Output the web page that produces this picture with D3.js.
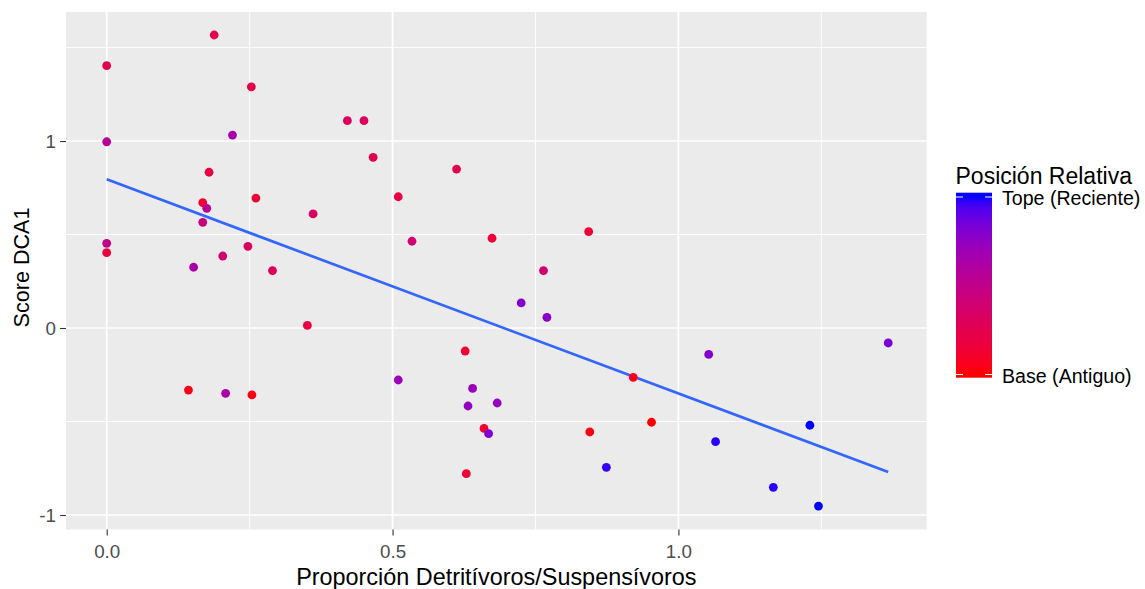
<!DOCTYPE html>
<html>
<head>
<meta charset="utf-8">
<script src="https://cdn.jsdelivr.net/npm/d3@7"></script>
<style>
  html, body { margin: 0; padding: 0; background: #ffffff; }
  svg { display: block; font-family: "Liberation Sans", Arial, sans-serif; }
</style>
</head>
<body>
<svg id="chart" width="1145" height="589"></svg>
<script>
// Detritivore / suspensivore ratio per sample
const ratio = [
  0.188, 0.000, 0.253, 0.421, 0.450, 0.000, 0.220, 0.466, 0.179, 0.261,
  0.510, 0.168, 0.175, 0.168, 0.361, 0.000, 0.000, 0.247, 0.203, 0.152,
  0.290, 0.612, 0.534, 0.674, 0.843, 0.764, 0.351, 0.143, 0.208, 0.254,
  0.510, 0.725, 0.770, 0.627, 0.640, 0.632, 0.683, 0.660, 0.668, 0.629,
  0.921, 0.845, 0.953, 0.874, 1.053, 1.367, 1.065, 1.230, 1.166, 1.245
];
// DCA axis 1 scores
const score = [
  1.567, 1.403, 1.290, 1.109, 1.109, 0.996, 1.032, 0.913, 0.833, 0.695,
  0.702, 0.670, 0.640, 0.565, 0.610, 0.453, 0.403, 0.437, 0.385, 0.325,
  0.307, 0.850, 0.464, 0.480, 0.515, 0.307, 0.014, -0.332, -0.349, -0.358,
  -0.278, 0.134, 0.057, -0.123, -0.323, -0.417, -0.401, -0.537, -0.565, -0.779,
  -0.264, -0.556, -0.504, -0.745, -0.141, -0.080, -0.608, -0.520, -0.852, -0.952
];
// Relative position in the core (0 = base/oldest, 1 = top/most recent)
const position = [
  0.25, 0.25, 0.22, 0.30, 0.30, 0.57, 0.65, 0.25, 0.20, 0.18,
  0.20, 0.13, 0.55, 0.45, 0.32, 0.50, 0.20, 0.33, 0.40, 0.65,
  0.28, 0.25, 0.40, 0.15, 0.15, 0.40, 0.20, 0.04, 0.63, 0.03,
  0.70, 0.80, 0.78, 0.12, 0.72, 0.74, 0.73, 0.12, 0.82, 0.15,
  0.05, 0.03, 0.00, 0.97, 0.80, 0.83, 0.98, 1.00, 0.98, 1.00
];

const xTicks = [0, 0.5, 1.0];
const xTickLabels = ["0.0", "0.5", "1.0"];
const xMinor = [0.25, 0.75, 1.25];
const yTicks = [-1, 0, 1];
const yTickLabels = ["-1", "0", "1"];
const yMinor = [-0.5, 0.5, 1.5];
const legendBreaks = [0, 1];
const legendLabels = ["Base (Antiguo)", "Tope (Reciente)"];

const xTitle = "Proporción Detritívoros/Suspensívoros";
const yTitle = "Score DCA1";
const legendTitle = "Posición Relativa";

const svg = d3.select("#chart");
const panel = { left: 66, right: 926.7, top: 12, bottom: 529.5 };

const x = d3.scaleLinear().domain([-0.0712, 1.4343]).range([panel.left, panel.right]);
const y = d3.scaleLinear().domain([-1.0775, 1.690]).range([panel.bottom, panel.top]);
const color = d3.scaleLinear().domain([0, 1]).range(["#FF0000", "#0000FF"])
  .interpolate(d3.interpolateLab).clamp(true);

// panel background
svg.append("rect")
  .attr("x", panel.left).attr("y", panel.top)
  .attr("width", panel.right - panel.left).attr("height", panel.bottom - panel.top)
  .attr("fill", "#EBEBEB");

const grid = svg.append("g");
// minor grid
grid.selectAll("line.xminor").data(xMinor).join("line")
  .attr("x1", d => x(d)).attr("x2", d => x(d))
  .attr("y1", panel.top).attr("y2", panel.bottom)
  .attr("stroke", "#ffffff").attr("stroke-width", 0.9);
grid.selectAll("line.yminor").data(yMinor).join("line")
  .attr("y1", d => y(d)).attr("y2", d => y(d))
  .attr("x1", panel.left).attr("x2", panel.right)
  .attr("stroke", "#ffffff").attr("stroke-width", 0.9);
// major grid
grid.selectAll("line.xmajor").data(xTicks).join("line")
  .attr("x1", d => x(d)).attr("x2", d => x(d))
  .attr("y1", panel.top).attr("y2", panel.bottom)
  .attr("stroke", "#ffffff").attr("stroke-width", 1.7);
grid.selectAll("line.ymajor").data(yTicks).join("line")
  .attr("y1", d => y(d)).attr("y2", d => y(d))
  .attr("x1", panel.left).attr("x2", panel.right)
  .attr("stroke", "#ffffff").attr("stroke-width", 1.7);

// axes
const xAxis = d3.axisBottom(x).tickValues(xTicks)
  .tickFormat((d, i) => xTickLabels[i]).tickSize(5.9).tickPadding(4.2);
const yAxis = d3.axisLeft(y).tickValues(yTicks)
  .tickFormat((d, i) => yTickLabels[i]).tickSize(5.9).tickPadding(4.2);

const gx = svg.append("g").attr("transform", `translate(0,${panel.bottom})`).call(xAxis);
const gy = svg.append("g").attr("transform", `translate(${panel.left},0)`).call(yAxis);
[gx, gy].forEach(g => {
  g.select(".domain").remove();
  g.selectAll(".tick line").attr("stroke", "#333333").attr("stroke-width", 1.1);
  g.selectAll(".tick text").attr("fill", "#4D4D4D")
    .style("font-size", "18.8px").style("font-family", "'Liberation Sans', Arial, sans-serif");
});
gx.selectAll(".tick text").attr("dy", null).attr("y", 0).attr("dominant-baseline", "auto")
  .attr("transform", "translate(0,28)");
gy.selectAll(".tick text").attr("dy", "0.36em");

// axis titles
svg.append("text")
  .attr("x", (panel.left + panel.right) / 2).attr("y", 584.5)
  .attr("text-anchor", "middle").attr("fill", "#000000")
  .style("font-size", "23.4px").text(xTitle);
svg.append("text")
  .attr("transform", `translate(28.5,267.5) rotate(-90)`)
  .attr("text-anchor", "middle").attr("fill", "#000000")
  .style("font-size", "21.6px").text(yTitle);

// least-squares trend line over the observed range
const n = ratio.length;
const mx = d3.mean(ratio), my = d3.mean(score);
let sxy = 0, sxx = 0;
for (let i = 0; i < n; i++) {
  sxy += (ratio[i] - mx) * (score[i] - my);
  sxx += (ratio[i] - mx) * (ratio[i] - mx);
}
const slope = sxy / sxx;
const intercept = my - slope * mx;
const xr = d3.extent(ratio);
svg.append("line")
  .attr("x1", x(xr[0])).attr("y1", y(intercept + slope * xr[0]))
  .attr("x2", x(xr[1])).attr("y2", y(intercept + slope * xr[1]))
  .attr("stroke", "#3366FF").attr("stroke-width", 2.7);

// points
svg.append("g").selectAll("circle").data(d3.range(n)).join("circle")
  .attr("cx", i => x(ratio[i])).attr("cy", i => y(score[i]))
  .attr("r", 4.4).attr("fill", i => color(position[i]));

// colour bar legend
const bar = { left: 956, right: 992, top: 192.7, bottom: 377.7 };
const lb = d3.scaleLinear().domain([0, 1]).range([374.5, 197]);
const defs = svg.append("defs");
const grad = defs.append("linearGradient").attr("id", "posGrad")
  .attr("x1", 0).attr("y1", 1).attr("x2", 0).attr("y2", 0);
const stops = d3.range(0, 41).map(k => k / 40);
grad.selectAll("stop").data(stops).join("stop")
  .attr("offset", s => s)
  .attr("stop-color", s => color(lb.invert(bar.bottom - s * (bar.bottom - bar.top))));
svg.append("rect")
  .attr("x", bar.left).attr("y", bar.top)
  .attr("width", bar.right - bar.left).attr("height", bar.bottom - bar.top)
  .attr("fill", "url(#posGrad)");
const lt = svg.append("g");
legendBreaks.forEach((b, i) => {
  const yy = lb(b);
  lt.append("line").attr("x1", bar.left).attr("x2", bar.left + 7)
    .attr("y1", yy).attr("y2", yy).attr("stroke", "#ffffff").attr("stroke-width", 1);
  lt.append("line").attr("x1", bar.right - 7).attr("x2", bar.right)
    .attr("y1", yy).attr("y2", yy).attr("stroke", "#ffffff").attr("stroke-width", 1);
  lt.append("text").attr("x", 1002).attr("y", yy + 1).attr("dy", "0.36em")
    .attr("fill", "#000000").style("font-size", "19.6px").text(legendLabels[i]);
});
svg.append("text").attr("x", 955.5).attr("y", 183.5)
  .attr("fill", "#000000").style("font-size", "23px").text(legendTitle);
</script>
</body>
</html>
